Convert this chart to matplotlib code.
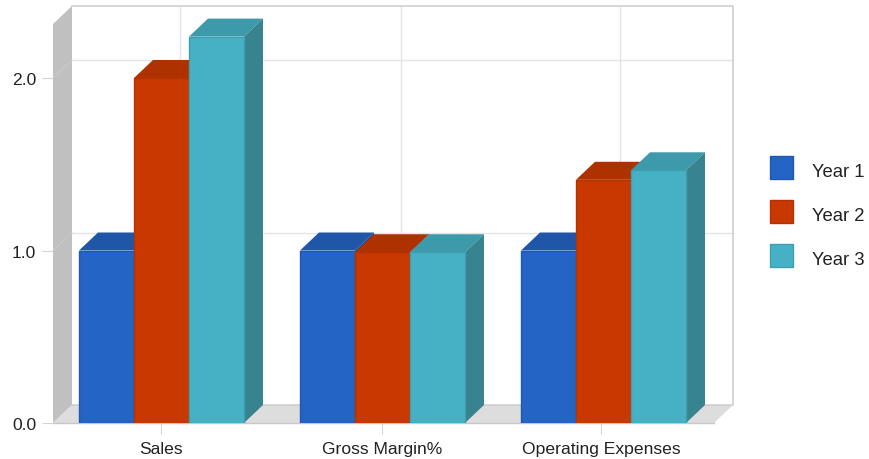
import matplotlib
matplotlib.use("Agg")
import matplotlib.pyplot as plt
from matplotlib.patches import Patch, Polygon

plt.rcParams["font.family"] = ["Liberation Sans", "DejaVu Sans"]

categories = ["Sales", "Gross Margin%", "Operating Expenses"]
series_names = ["Year 1", "Year 2", "Year 3"]
year1 = [1.0, 1.0, 1.0]
year2 = [2.0, 0.99, 1.41]
year3 = [2.24, 0.99, 1.465]
y_ticks = [0.0, 1.0, 2.0]
y_tick_labels = ["0.0", "1.0", "2.0"]
grid_positions = [-0.002, 0.998, 1.99]

front = ["#2464C4", "#C83800", "#46B1C5"]
top = ["#2056A8", "#AE3200", "#3D9AAB"]
side = ["#1C4C94", "#962C00", "#37838F"]
edge = ["#2059B0", "#B43200", "#3F9FB1"]

W, H = 869, 460
left_px, right_px, bottom_px, top_px = 53, 714, 424, 25
x0_px, x_unit = 161.5, 221.0
y_unit = 172.5
depth_x, depth_y = 19 / x_unit, 18 / y_unit
bar_w = 55 / x_unit

fig = plt.figure(figsize=(W / 100, H / 100), dpi=100, facecolor="white")
ax = fig.add_axes([left_px / W, 1 - bottom_px / H, (right_px - left_px) / W, (bottom_px - top_px) / H])
ax.set_xlim((left_px - x0_px) / x_unit, (right_px - x0_px) / x_unit)
ax.set_ylim(0, (bottom_px - top_px) / y_unit)
ax.patch.set_visible(False)
for s in ax.spines.values():
    s.set_visible(False)

xmin, xmax = ax.get_xlim()
ymin, ymax = ax.get_ylim()


def poly(points, fc, ec="none", lw=0.0, z=1):
    ax.add_patch(Polygon(points, closed=True, facecolor=fc, edgecolor=ec, linewidth=lw, zorder=z, clip_on=False))


# Box: left wall, floor, back wall frame and grid
poly([(xmin, ymin), (xmin + depth_x, ymin + depth_y), (xmin + depth_x, ymax + depth_y), (xmin, ymax)], "#C0C0C0")
poly([(xmin, ymin), (xmin + depth_x, ymin + depth_y), (xmax + depth_x, ymin + depth_y), (xmax, ymin)], "#DDDDDD")
for v in y_ticks[1:]:
    ax.plot([xmin + depth_x, xmax + depth_x], [v + depth_y] * 2, color="#E4E4E4", lw=1.0, zorder=1.2, clip_on=False)
    ax.plot([xmin, xmin + depth_x], [v, v + depth_y], color="#CACACA", lw=0.6, zorder=1.2, clip_on=False)
for g in grid_positions:
    ax.plot([g + depth_x] * 2, [ymin + depth_y, ymax + depth_y], color="#E4E4E4", lw=1.0, zorder=1.2, clip_on=False)
ax.plot([xmin + depth_x, xmax + depth_x, xmax + depth_x, xmin + depth_x],
        [ymin + depth_y, ymin + depth_y, ymax + depth_y, ymax + depth_y],
        color="#CCCCCC", lw=1.1, zorder=1.3, clip_on=False)
ax.plot([xmin, xmax], [ymin, ymin], color="#C8C8C8", lw=1.0, zorder=1.3, clip_on=False)

# Extruded bars, painted left to right so each one covers its neighbour's side
z = 2.0
for c in range(len(categories)):
    for i, values in enumerate([year1, year2, year3]):
        v = values[c]
        x_l = c + (i - 1.5) * bar_w
        x_r = x_l + bar_w
        poly([(x_l, v), (x_l + depth_x, v + depth_y), (x_r + depth_x, v + depth_y), (x_r, v)], top[i], z=z)
        poly([(x_r, 0), (x_r + depth_x, depth_y), (x_r + depth_x, v + depth_y), (x_r, v)], side[i], z=z)
        ax.bar(x_l, v, width=bar_w, align="edge", color=front[i], edgecolor=edge[i], linewidth=1.0, zorder=z + 0.1)
        z += 0.2

ax.set_xticks(grid_positions)
ax.set_xticklabels(categories)
ax.set_yticks(y_ticks)
ax.set_yticklabels(y_tick_labels)
ax.tick_params(axis="both", length=8, width=0.8, color="#D4D4D4", labelcolor="#222222", labelsize=12.6)
ax.tick_params(axis="x", pad=5)
ax.tick_params(axis="y", pad=4)

handles = [Patch(facecolor=front[i], edgecolor=edge[i], linewidth=1.0, label=series_names[i]) for i in range(3)]
fs = 13.3
legend = fig.legend(
    handles=handles, loc="upper left", bbox_to_anchor=(770 / W, 1 - 157 / H), frameon=False,
    borderpad=0, borderaxespad=0, fontsize=fs, labelcolor="#222222",
    handlelength=16.5 / fs, handleheight=1.53, handletextpad=13.8 / fs, labelspacing=15.2 / fs,
)
# Labels sit slightly below the swatch centres
for label in legend.get_texts():
    label.set_y(-2.0)

fig.savefig("out.png", dpi=100, facecolor="white")
